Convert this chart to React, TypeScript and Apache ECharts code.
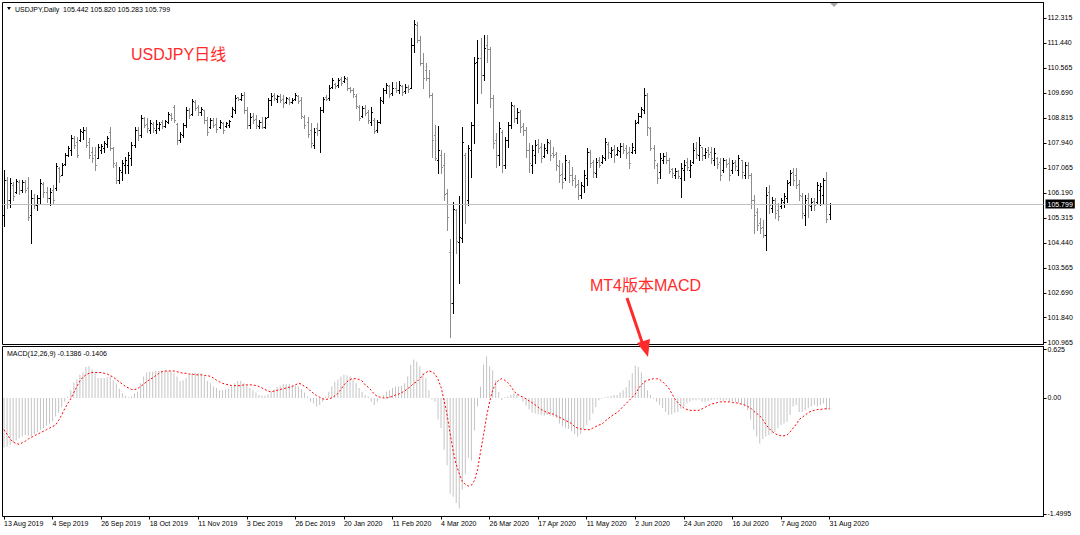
import React, { useEffect, useRef } from "react";
import * as echarts from "echarts";

// ---- OHLC (USDJPY daily, 13 Aug 2019 .. 31 Aug 2020) ----
const open = [
105.42,106.64,105.94,106.47,106.22,106.57,106.29,106.57,106.36,105.42,
106.01,105.77,106.01,106.50,106.22,106.01,106.29,106.36,107.06,106.82,
107.20,107.52,107.69,108.11,107.97,108.04,108.32,108.39,107.97,107.62,
107.52,107.41,107.69,107.76,107.90,108.32,107.76,107.17,106.64,106.92,
107.17,107.17,107.41,107.87,108.39,108.22,108.81,108.60,108.39,108.60,
108.39,108.46,108.67,108.53,108.67,108.92,109.20,108.60,108.04,108.22,
108.57,109.09,108.95,109.37,109.20,109.02,109.09,108.74,108.50,108.74,
108.60,108.50,108.64,108.53,108.57,108.88,109.09,109.55,109.48,109.62,
109.09,108.57,108.88,108.78,108.53,108.67,108.50,108.85,109.44,109.62,
109.48,109.58,109.48,109.37,109.48,109.37,109.48,109.58,109.44,108.85,
108.67,108.39,107.87,108.46,108.39,109.09,109.55,109.51,109.90,110.00,
109.97,110.18,110.11,110.18,109.86,109.79,109.58,109.20,108.88,109.16,
109.02,108.67,108.74,108.39,108.67,109.41,109.79,109.93,109.69,109.86,
109.79,109.93,109.76,109.90,109.86,111.37,112.07,111.54,110.74,110.49,
110.21,109.62,108.22,107.34,107.52,107.17,106.19,104.12,102.34,105.59,
104.47,104.61,107.52,105.94,107.69,108.57,110.77,110.91,110.32,111.37,
111.23,109.51,108.04,107.52,108.32,107.17,108.04,108.57,109.23,108.81,
109.02,108.53,108.39,107.69,107.17,107.52,107.90,107.80,107.48,107.69,
107.94,107.59,107.55,107.13,106.85,106.71,107.27,106.82,106.71,106.50,
106.12,106.43,106.71,107.62,107.27,106.89,107.34,107.27,107.41,107.90,
107.59,107.73,107.55,107.66,107.83,107.76,107.62,107.62,107.69,108.67,
108.88,109.09,109.62,108.46,107.76,107.17,106.92,107.34,107.48,107.34,
107.03,106.82,106.96,106.71,106.99,107.27,106.99,107.27,107.76,107.52,
107.80,107.52,107.69,107.62,107.34,107.41,107.27,106.99,107.34,107.24,
106.99,107.27,106.99,107.34,106.82,107.17,106.82,105.94,105.52,105.14,
105.00,104.72,106.22,105.66,105.94,105.59,105.73,105.87,106.01,106.57,
106.92,106.82,106.50,106.08,105.42,106.01,105.73,105.91,105.87,106.29,
106.12,106.64,105.442
];
const high = [
106.99,106.75,106.71,106.57,106.68,106.64,106.64,106.64,106.75,106.29,
106.15,106.12,106.68,106.57,106.40,106.36,106.47,107.24,107.10,107.24,
107.59,107.83,108.22,108.18,108.15,108.43,108.50,108.50,108.11,107.80,
107.80,107.90,107.90,108.01,108.18,108.50,107.80,107.27,107.10,107.34,
107.45,107.62,107.97,108.50,108.50,108.92,108.85,108.81,108.74,108.67,
108.74,108.67,108.74,108.74,109.02,108.99,109.27,108.64,108.32,108.64,
109.20,109.16,109.48,109.44,109.27,109.20,109.09,108.85,108.81,108.81,
108.81,108.74,108.67,108.67,108.74,109.20,109.62,109.55,109.69,109.72,
109.20,108.99,108.99,108.92,108.74,108.85,108.85,109.51,109.69,109.69,
109.62,109.65,109.62,109.55,109.55,109.51,109.69,109.62,109.55,108.92,
108.85,108.64,108.46,108.64,109.20,109.55,109.62,109.97,110.21,110.04,
110.21,110.25,110.28,110.25,109.90,109.86,109.65,109.27,109.23,109.27,
109.09,109.20,108.81,108.74,109.55,109.86,110.04,109.97,110.07,110.07,
110.11,109.97,110.00,109.97,111.61,112.24,112.17,111.68,111.09,110.74,
110.49,109.69,108.57,108.53,107.69,107.59,106.33,104.58,105.87,105.63,
106.08,108.50,107.59,107.87,108.67,110.95,111.54,111.61,111.72,111.72,
111.30,109.62,108.29,108.67,108.39,108.15,108.67,109.37,109.27,109.16,
109.09,108.64,108.50,107.94,107.87,108.04,108.08,107.94,107.90,108.08,
108.04,107.80,107.62,107.34,107.24,107.52,107.34,107.10,106.82,106.64,
106.57,106.99,107.76,107.69,107.34,107.41,107.45,107.52,108.11,107.97,
107.80,107.87,107.80,107.94,107.94,107.87,107.80,107.94,108.74,108.99,
109.20,109.86,109.69,108.50,107.87,107.24,107.59,107.59,107.62,107.41,
107.06,107.06,106.99,107.24,107.34,107.41,107.34,107.94,107.97,108.15,
107.80,107.76,107.80,107.80,107.76,107.45,107.41,107.41,107.38,107.41,
107.34,107.34,107.52,107.34,107.27,107.27,106.89,106.12,105.66,105.31,
105.24,106.40,106.47,106.05,106.01,105.84,106.01,106.19,106.64,106.99,
107.06,107.06,106.64,106.19,106.12,106.19,106.01,106.01,106.57,106.54,
106.71,106.92,105.820
];
const low = [
105.03,105.66,105.70,105.94,106.19,106.15,106.22,106.22,105.24,104.44,
105.66,105.59,105.84,106.05,105.87,105.77,105.84,106.29,106.57,106.82,
107.17,107.48,107.52,107.76,107.45,108.01,108.08,107.80,107.41,107.27,
106.99,107.41,107.59,107.62,107.80,107.69,107.10,106.54,106.54,106.64,
106.89,106.89,107.17,107.80,108.04,108.15,108.50,108.32,108.29,108.32,
108.29,108.39,108.46,108.50,108.64,108.74,108.67,107.90,107.97,108.15,
108.50,108.81,108.92,109.09,108.92,108.92,108.64,108.22,108.46,108.50,
108.32,108.46,108.29,108.50,108.50,108.85,108.99,109.44,109.44,108.99,
108.46,108.46,108.64,108.46,108.46,108.46,108.46,108.85,109.27,109.44,
109.37,109.37,109.20,109.34,109.30,109.34,109.44,109.34,108.81,108.46,
108.15,107.80,107.76,108.22,107.62,109.02,109.44,109.44,109.86,109.86,
109.90,109.97,110.07,109.79,109.72,109.55,109.16,108.74,108.85,108.92,
108.64,108.57,108.29,108.32,108.64,109.34,109.69,109.55,109.62,109.72,
109.69,109.62,109.69,109.72,109.86,111.12,111.47,110.67,109.86,110.14,
109.55,107.45,107.34,106.89,106.89,105.94,104.89,101.15,101.99,104.09,
103.04,104.47,105.14,105.77,106.75,107.94,109.34,109.69,110.14,110.77,
109.20,107.76,107.10,107.17,106.92,107.06,107.80,108.46,108.67,108.64,
108.32,108.22,107.45,106.92,106.89,107.24,107.62,107.27,107.45,107.59,
107.34,107.45,106.99,106.57,106.36,106.64,106.57,106.47,106.40,105.98,
106.01,106.22,106.47,107.10,106.75,106.75,107.10,107.24,107.34,107.41,
107.45,107.27,107.52,107.45,107.59,107.41,107.06,107.59,107.59,108.64,
108.85,108.99,108.22,107.69,107.06,106.54,106.71,107.24,107.24,106.89,
106.75,106.71,106.71,106.05,106.64,106.99,106.75,107.24,107.41,107.34,
107.34,107.41,107.45,107.24,107.17,107.06,106.64,106.92,107.10,106.64,
106.89,106.99,106.82,106.71,106.71,106.71,105.66,104.79,104.89,104.79,
104.65,104.19,105.49,105.52,105.31,105.24,105.66,105.70,105.87,106.47,
106.47,106.36,105.94,105.31,105.07,105.35,105.59,105.59,105.84,105.77,
105.84,105.17,105.283
];
const close = [
106.64,105.94,106.54,106.08,106.61,106.29,106.57,106.29,105.35,106.01,
105.77,106.01,106.54,106.22,106.01,106.22,105.94,107.13,106.78,107.17,
107.52,107.76,108.11,107.87,107.52,108.36,108.39,107.87,107.52,107.41,
107.17,107.80,107.83,107.94,108.11,107.76,107.24,106.64,106.99,107.24,
107.34,107.52,107.87,108.39,108.22,108.81,108.57,108.46,108.64,108.46,
108.60,108.60,108.53,108.71,108.95,108.81,108.74,108.04,108.25,108.57,
109.09,108.92,109.41,109.16,109.02,109.13,108.74,108.32,108.74,108.57,
108.43,108.67,108.39,108.64,108.71,109.13,109.51,109.48,109.62,109.09,
108.57,108.85,108.74,108.57,108.67,108.50,108.81,109.44,109.58,109.51,
109.58,109.44,109.34,109.51,109.37,109.44,109.62,109.41,108.88,108.57,
108.25,107.94,108.32,108.39,109.09,109.48,109.48,109.86,110.14,109.93,
110.14,110.04,110.21,109.86,109.79,109.65,109.23,108.81,109.16,108.99,
108.74,109.02,108.36,108.67,109.44,109.79,109.97,109.65,109.86,109.79,
109.97,109.72,109.90,109.83,111.37,112.10,111.54,110.74,110.21,110.21,
109.62,108.04,107.41,107.69,107.10,106.15,105.35,102.34,105.63,104.51,
104.65,107.97,105.80,107.76,108.57,110.74,110.91,110.32,111.26,111.23,
109.51,107.94,107.52,108.46,107.17,108.04,108.57,109.27,108.81,109.02,
108.50,108.39,107.69,107.24,107.69,107.87,107.76,107.41,107.76,107.97,
107.52,107.52,107.17,106.82,106.57,107.34,106.82,106.64,106.47,106.12,
106.47,106.82,107.62,107.24,106.92,107.27,107.17,107.45,107.97,107.62,
107.69,107.52,107.69,107.83,107.69,107.59,107.24,107.80,108.64,108.88,
109.13,109.62,108.50,107.76,107.34,106.71,107.41,107.48,107.34,106.96,
106.89,106.96,106.78,107.06,107.17,107.10,107.17,107.69,107.55,107.87,
107.52,107.62,107.55,107.41,107.59,107.20,106.82,107.34,107.20,106.82,
107.24,107.13,107.41,106.92,107.17,106.82,105.94,105.42,105.07,104.96,
104.72,106.12,105.77,105.94,105.49,105.38,105.94,106.08,106.54,106.89,
106.64,106.47,106.12,105.49,105.94,105.77,105.87,105.77,106.47,106.43,
106.64,105.28,105.799
];

// ---- MACD(12,26,9): main (histogram) and signal ----
const macdMain = [
-0.64,-0.63,-0.61,-0.58,-0.55,-0.52,-0.50,-0.48,-0.49,-0.50,
-0.47,-0.44,-0.41,-0.39,-0.36,-0.33,-0.30,-0.24,-0.19,-0.12,
-0.05,0.02,0.10,0.20,0.24,0.30,0.33,0.40,0.41,0.37,
0.32,0.26,0.26,0.26,0.27,0.28,0.23,0.19,0.12,0.06,
0.03,0.01,0.02,0.06,0.08,0.19,0.28,0.33,0.34,0.34,
0.35,0.35,0.35,0.35,0.35,0.34,0.32,0.28,0.22,0.23,
0.26,0.30,0.32,0.33,0.32,0.32,0.28,0.22,0.19,0.15,
0.13,0.10,0.10,0.11,0.12,0.15,0.19,0.22,0.22,0.19,
0.17,0.13,0.10,0.07,0.04,0.03,0.03,0.05,0.08,0.11,
0.14,0.16,0.18,0.18,0.18,0.17,0.16,0.15,0.12,0.07,
0.02,-0.05,-0.07,-0.11,-0.09,-0.05,0.02,0.08,0.15,0.21,
0.24,0.28,0.30,0.29,0.28,0.24,0.19,0.13,0.08,0.04,
0.02,-0.05,-0.09,-0.05,0.00,0.04,0.08,0.10,0.13,0.15,
0.15,0.16,0.19,0.28,0.43,0.50,0.47,0.41,0.32,0.26,
0.10,-0.02,-0.05,-0.28,-0.39,-0.67,-0.87,-1.24,-1.28,-1.36,
-1.43,-1.19,-0.98,-0.78,-0.81,-0.42,-0.11,0.15,0.43,0.54,
0.41,0.36,0.23,0.08,-0.03,0.01,0.02,0.04,0.06,0.04,
0.00,-0.05,-0.10,-0.15,-0.19,-0.20,-0.21,-0.22,-0.23,-0.22,
-0.23,-0.24,-0.26,-0.33,-0.37,-0.39,-0.40,-0.43,-0.47,-0.50,
-0.47,-0.40,-0.35,-0.29,-0.20,-0.12,-0.03,-0.01,0.01,0.02,
0.03,0.04,0.04,0.07,0.10,0.14,0.23,0.32,0.42,0.40,
0.33,0.23,0.10,0.04,-0.01,-0.05,-0.09,-0.13,-0.18,-0.22,
-0.21,-0.19,-0.18,-0.14,-0.11,-0.07,-0.05,-0.03,-0.03,-0.02,
-0.05,-0.05,-0.04,-0.03,-0.02,-0.02,-0.03,-0.04,-0.03,-0.04,
-0.05,-0.05,-0.06,-0.08,-0.11,-0.16,-0.28,-0.41,-0.50,-0.59,
-0.53,-0.50,-0.48,-0.46,-0.44,-0.39,-0.35,-0.33,-0.31,-0.22,
-0.11,-0.09,-0.18,-0.18,-0.16,-0.13,-0.11,-0.09,-0.11,-0.09,
-0.07,-0.15,-0.1386
];
const macdSignal = [
-0.41,-0.47,-0.53,-0.57,-0.59,-0.60,-0.58,-0.56,-0.53,-0.51,
-0.49,-0.47,-0.45,-0.43,-0.41,-0.39,-0.37,-0.35,-0.29,-0.22,
-0.14,-0.07,-0.01,0.07,0.15,0.22,0.27,0.30,0.32,0.33,
0.33,0.33,0.33,0.32,0.31,0.29,0.27,0.24,0.21,0.18,
0.15,0.13,0.11,0.11,0.12,0.15,0.18,0.21,0.24,0.26,
0.29,0.32,0.34,0.35,0.35,0.35,0.35,0.34,0.33,0.32,
0.32,0.31,0.31,0.30,0.30,0.30,0.29,0.29,0.28,0.26,
0.23,0.21,0.19,0.18,0.17,0.16,0.16,0.16,0.16,0.17,
0.17,0.17,0.17,0.16,0.15,0.13,0.11,0.09,0.08,0.09,
0.10,0.11,0.12,0.13,0.14,0.15,0.17,0.19,0.18,0.15,
0.13,0.09,0.06,0.03,0.01,-0.01,-0.02,-0.01,0.00,0.03,
0.06,0.11,0.17,0.21,0.24,0.25,0.25,0.24,0.22,0.17,
0.14,0.10,0.05,0.02,0.01,0.00,0.00,0.01,0.02,0.04,
0.05,0.07,0.09,0.12,0.15,0.19,0.21,0.25,0.30,0.33,
0.35,0.34,0.31,0.24,0.14,-0.03,-0.22,-0.46,-0.69,-0.86,
-0.98,-1.08,-1.12,-1.14,-1.13,-1.07,-0.93,-0.70,-0.48,-0.24,
-0.05,0.10,0.19,0.23,0.25,0.23,0.20,0.15,0.09,0.05,
0.03,0.01,-0.01,-0.04,-0.06,-0.09,-0.12,-0.15,-0.17,-0.19,
-0.20,-0.21,-0.23,-0.25,-0.27,-0.29,-0.31,-0.33,-0.37,-0.39,
-0.40,-0.41,-0.41,-0.41,-0.39,-0.37,-0.35,-0.34,-0.30,-0.27,
-0.24,-0.21,-0.19,-0.15,-0.11,-0.07,-0.03,0.01,0.05,0.12,
0.17,0.21,0.23,0.24,0.25,0.25,0.24,0.21,0.17,0.13,
0.06,-0.01,-0.06,-0.10,-0.13,-0.15,-0.16,-0.16,-0.16,-0.16,
-0.14,-0.12,-0.10,-0.08,-0.07,-0.06,-0.05,-0.05,-0.05,-0.05,
-0.06,-0.06,-0.07,-0.08,-0.09,-0.11,-0.13,-0.17,-0.20,-0.23,
-0.28,-0.34,-0.39,-0.43,-0.46,-0.48,-0.49,-0.49,-0.48,-0.44,
-0.39,-0.34,-0.28,-0.25,-0.22,-0.19,-0.17,-0.16,-0.15,-0.15,
-0.14,-0.14,-0.1406
];

// ---- axis tick values ----
const priceTicks = [112.315,111.44,110.565,109.69,108.815,107.94,107.065,106.19,105.315,104.44,103.565,102.69,101.84,100.965];
const macdTicks = [0.625, 0, -1.4995];
const lastPrice = 105.799;
const headerText = "USDJPY,Daily  105.442 105.820 105.283 105.799";
const macdText = "MACD(12,26,9) -0.1386 -0.1406";

const MONTHS = ["Jan","Feb","Mar","Apr","May","Jun","Jul","Aug","Sep","Oct","Nov","Dec"];
const SKIP_DAYS = ["2019-12-25", "2020-01-01"];
const SLOTS = 343;
const LABEL_EVERY = 16;

function tradingDates(n: number): string[] {
  const out: string[] = [];
  let t = Date.UTC(2019, 7, 13);
  while (out.length < n) {
    const d = new Date(t);
    const wd = d.getUTCDay();
    const iso = d.toISOString().slice(0, 10);
    if (wd !== 0 && wd !== 6 && SKIP_DAYS.indexOf(iso) < 0) {
      out.push(`${d.getUTCDate()} ${MONTHS[d.getUTCMonth()]} ${d.getUTCFullYear()}`);
    }
    t += 86400000;
  }
  return out;
}

const FONT = "'Liberation Sans', Arial, sans-serif";
const RED = "#ff2b2b";

export default function App() {
  const ref = useRef<HTMLDivElement>(null);
  useEffect(() => {
    if (!ref.current) return;
    const chart = echarts.init(ref.current, null, { renderer: "svg" });
    const n = close.length;
    const dates = tradingDates(n);
    const cats: string[] = [];
    for (let i = 0; i < SLOTS; i++) cats.push(i < n ? dates[i] : "slot" + i);
    const ohlc = close.map((c, i) => [i, open[i], high[i], low[i], c]);
    const showIdx = (idx: number) => idx % LABEL_EVERY === 0 && idx < n;

    const option: any = {
      animation: false,
      backgroundColor: "#ffffff",
      textStyle: { fontFamily: FONT },
      grid: [
        { left: 2.5, top: 2.5, width: 1041, height: 342, show: true, borderColor: "#000", borderWidth: 1, backgroundColor: "transparent" },
        { left: 2.5, top: 346.5, width: 1041, height: 170, show: true, borderColor: "#000", borderWidth: 1, backgroundColor: "transparent" },
      ],
      xAxis: [
        { type: "category", gridIndex: 0, data: cats, boundaryGap: true, show: false },
        {
          type: "category", gridIndex: 1, data: cats, boundaryGap: true, position: "bottom",
          axisLine: { show: false, onZero: false },
          axisTick: { show: true, alignWithLabel: true, interval: (idx: number) => showIdx(idx), length: 3, lineStyle: { color: "#000" } },
          axisLabel: { interval: (idx: number) => showIdx(idx), align: "left", fontSize: 7, color: "#000", margin: 3, fontFamily: FONT },
          splitLine: { show: false },
        },
      ],
      yAxis: [
        {
          type: "value", gridIndex: 0, position: "right", min: 100.8825, max: 112.8525, scale: true,
          axisLine: { show: true, lineStyle: { color: "#000" } },
          axisTick: { show: true, customValues: priceTicks, length: 3, lineStyle: { color: "#000" } },
          axisLabel: { customValues: priceTicks, formatter: (v: number) => v.toFixed(3), fontSize: 7, color: "#000", margin: 4, fontFamily: FONT },
          splitLine: { show: false },
        },
        {
          type: "value", gridIndex: 1, position: "right", min: -1.535, max: 0.667, scale: true,
          axisLine: { show: true, lineStyle: { color: "#000" } },
          axisTick: { show: true, customValues: macdTicks, length: 3, lineStyle: { color: "#000" } },
          axisLabel: { customValues: macdTicks, formatter: (v: number) => (v === 0 ? "0.00" : String(v)), fontSize: 7, color: "#000", margin: 4, fontFamily: FONT },
          splitLine: { show: false },
        },
      ],
      series: [
        {
          type: "custom", name: "USDJPY", xAxisIndex: 0, yAxisIndex: 0,
          data: ohlc,
          encode: { x: 0, y: [1, 2, 3, 4] },
          renderItem: (params: any, api: any) => {
            const i = api.value(0);
            const o = api.value(1), h = api.value(2), l = api.value(3), c = api.value(4);
            const pO = api.coord([i, o]);
            const pH = api.coord([i, h]);
            const pL = api.coord([i, l]);
            const pC = api.coord([i, c]);
            const x = Math.round(pO[0]) + 0.5;
            const yO = Math.round(pO[1]) + 0.5;
            const yC = Math.round(pC[1]) + 0.5;
            const color = c >= o ? "#000000" : "#8c8c8c";
            const st = { stroke: color, lineWidth: 1 };
            return {
              type: "group",
              children: [
                { type: "line", shape: { x1: x, y1: Math.round(pH[1]), x2: x, y2: Math.round(pL[1]) + 1 }, style: st },
                { type: "line", shape: { x1: x - 1.5, y1: yO, x2: x, y2: yO }, style: st },
                { type: "line", shape: { x1: x, y1: yC, x2: x + 1.5, y2: yC }, style: st },
              ],
            };
          },
          markLine: {
            silent: true, symbol: "none", animation: false,
            lineStyle: { color: "#c0c0c0", width: 1, type: "solid" },
            label: { show: true, position: "end", distance: 2, formatter: () => lastPrice.toFixed(3), backgroundColor: "#000", color: "#fff", fontSize: 7, padding: [1, 2, 1, 2], fontFamily: FONT },
            data: [{ yAxis: lastPrice }],
          },
        },
        {
          type: "bar", name: "MACD", xAxisIndex: 1, yAxisIndex: 1,
          data: macdMain, barWidth: 1, itemStyle: { color: "#c4c4c4" }, silent: true,
        },
        {
          type: "line", name: "Signal", xAxisIndex: 1, yAxisIndex: 1,
          data: macdSignal, symbol: "none", silent: true,
          lineStyle: { color: "#ff0000", width: 1, type: [2, 2] },
        },
      ],
      graphic: [
        { type: "polygon", shape: { points: [[7, 7], [11, 7], [9, 10]] }, style: { fill: "#000" } },
        { type: "text", x: 15, y: 9, style: { text: headerText, fill: "#000", font: `7px ${FONT}`, textVerticalAlign: "middle" } },
        { type: "text", x: 7, y: 353, style: { text: macdText, fill: "#000", font: `7px ${FONT}`, textVerticalAlign: "middle" } },
        { type: "polygon", shape: { points: [[830, 3], [838, 3], [834, 7]] }, style: { fill: "#a8a8a8" } },
        { type: "text", x: 131, y: 54, style: { text: "USDJPY日线", fill: RED, font: `16px ${FONT}, 'Noto Sans CJK SC'`, textVerticalAlign: "middle" } },
        { type: "text", x: 590, y: 285, style: { text: "MT4版本MACD", fill: RED, font: `16px ${FONT}, 'Noto Sans CJK SC'`, textVerticalAlign: "middle" } },
        { type: "line", shape: { x1: 627, y1: 298, x2: 643, y2: 345 }, style: { stroke: RED, lineWidth: 3 } },
        { type: "polygon", shape: { points: [[637, 343], [650, 339], [648, 357]] }, style: { fill: RED } },
      ],
    };
    chart.setOption(option);
    return () => chart.dispose();
  }, []);
  return <div ref={ref} style={{ position: "fixed", left: 0, top: 0, width: 1080, height: 535, background: "#fff" }} />;
}
